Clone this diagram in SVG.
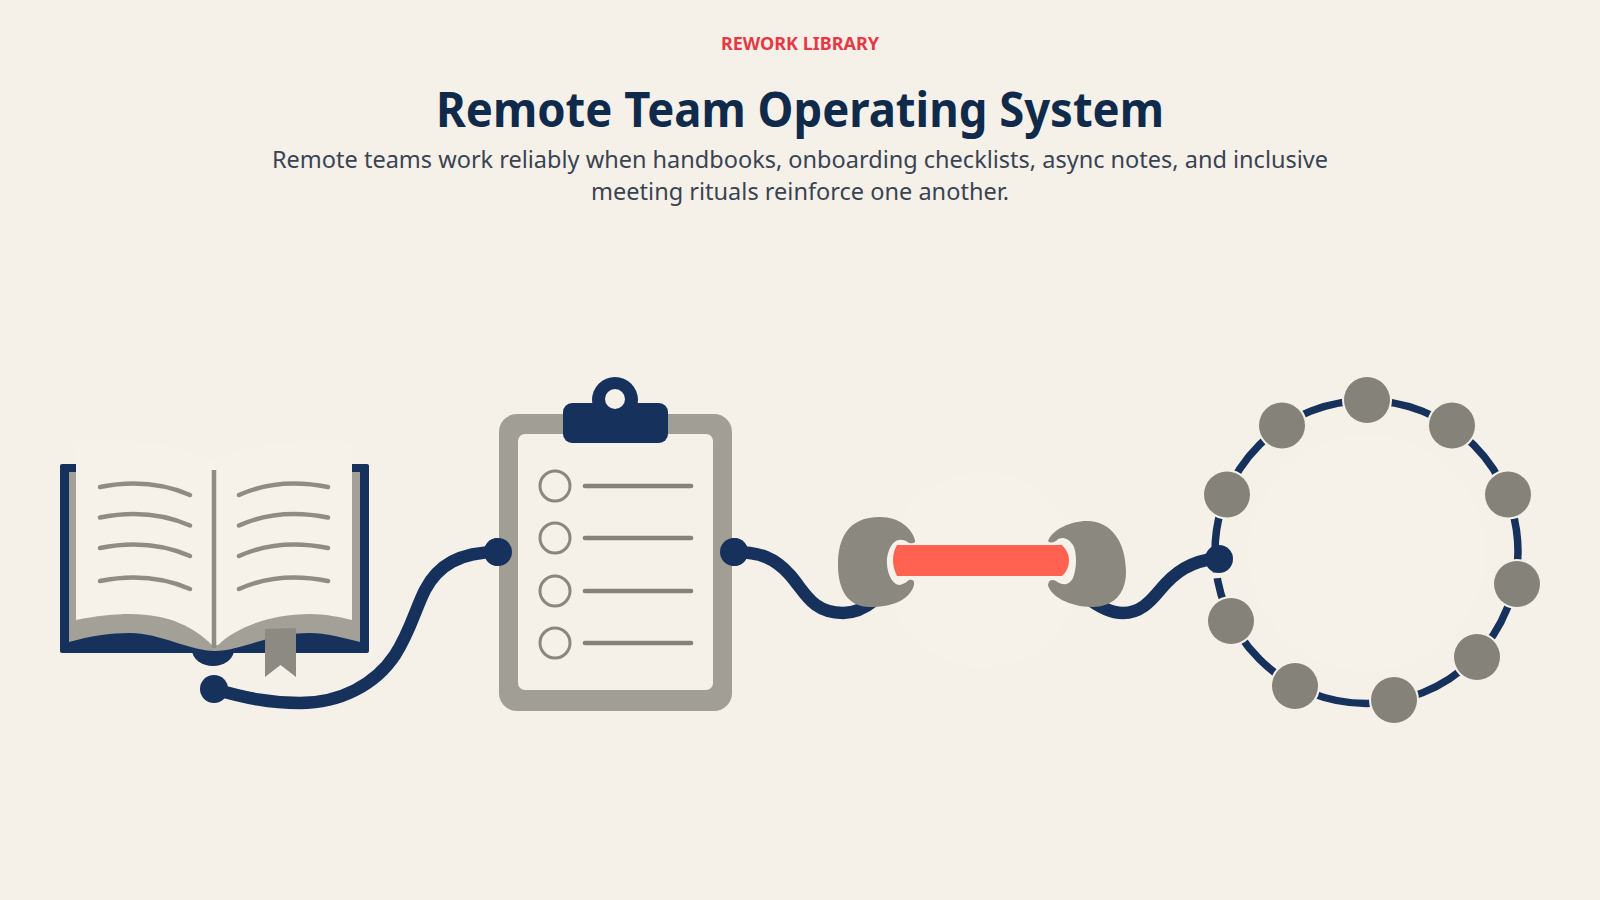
<svg xmlns="http://www.w3.org/2000/svg" width="1600" height="900" viewBox="0 0 1600 900">
  <style>
    .sans { font-family: "Noto Sans", "Open Sans", "Liberation Sans", sans-serif; text-anchor: middle; }
    .eyebrow { font-size: 18px; font-weight: 700; fill: #e63946; }
    .title { font-size: 48px; font-weight: 700; fill: #0f2a4a; }
    .lede { font-size: 24px; fill: #3a4352; }
    .navy { fill: #16325c; }
    .wire { fill: none; stroke: #16325c; stroke-width: 12.500; stroke-linecap: round; }
    .page-line { fill: none; stroke: #8f8c85; stroke-width: 4.500; stroke-linecap: round; }
    .item-line { fill: none; stroke: #85827a; stroke-width: 4.700; stroke-linecap: round; }
    .item-box { fill: none; stroke: #8a8780; stroke-width: 3; }
    .seat { fill: #85827a; stroke: #f5f1e9; stroke-width: 4; paint-order: stroke; }
  </style>
  <rect width="1600" height="900" fill="#f5f1e9"/>

  <g id="header" class="sans">
    <text class="eyebrow" x="800" y="50">REWORK LIBRARY</text>
    <text class="title" x="800" y="127" textLength="728" lengthAdjust="spacingAndGlyphs">Remote Team Operating System</text>
    <text class="lede" x="800" y="168" textLength="1056" lengthAdjust="spacingAndGlyphs">Remote teams work reliably when handbooks, onboarding checklists, async notes, and inclusive</text>
    <text class="lede" x="800" y="200" textLength="418" lengthAdjust="spacingAndGlyphs">meeting rituals reinforce one another.</text>
  </g>

  <g id="connectors">
    <path class="wire" d="M214 689C245 698 270 703 300 703C340 703 375 685 395 655C410 632 415 610 425 590C438 565 460 552 498 552"/>
    <path class="wire" d="M734 552C760 552 775 558 790 575C805 592 812 613 843 613C854 613 864 609 875 600"/>
    <path class="wire" d="M1085 596C1100 608 1112 613 1123 613C1140 613 1150 602 1160 590C1175 572 1190 561 1219 558"/>
    <circle class="navy" cx="214" cy="689" r="14"/>
    <circle class="navy" cx="498" cy="552" r="14"/>
    <circle class="navy" cx="734" cy="552" r="14"/>
  </g>

  <g id="handbook">
    <rect class="navy" x="60" y="464" width="309" height="189" rx="2"/>
    <ellipse class="navy" cx="213" cy="650" rx="21" ry="16"/>
    <path d="M69 472H360V642C345 638 325 633 310 633C270 633 240 651 215 651C190 651 160 633 130 633C110 633 90 636 69 642Z" fill="#a3a097"/>
    <path d="M76 443C110 441 170 438 214 462C258 438 318 441 352 443V620C340 617 325 614 310 614C270 614 235 628 218 645H212C195 628 170 614 130 614C115 614 95 616 76 620Z" fill="#f6f2ea"/>
    <path d="M214 470V648" stroke="#8f8c84" stroke-width="4.500" fill="none"/>
    <g id="handbook-left-lines">
      <path class="page-line" d="M100 487C130 481 160 482 190 495"/>
      <path class="page-line" d="M100 517.500C130 511.500 160 512.500 190 525.500"/>
      <path class="page-line" d="M100 548C130 542 160 543 190 556"/>
      <path class="page-line" d="M100 581C130 575 160 576 190 589"/>
    </g>
    <g id="handbook-right-lines">
      <path class="page-line" d="M328 487C298 481 268 482 239 495"/>
      <path class="page-line" d="M328 517.500C298 511.500 268 512.500 239 525.500"/>
      <path class="page-line" d="M328 548C298 542 268 543 239 556"/>
      <path class="page-line" d="M328 581C298 575 268 576 239 589"/>
    </g>
    <path d="M265 629L296 628V677L280.500 665L265 677Z" fill="#8d8a83"/>
  </g>

  <g id="checklist">
    <rect x="499" y="414" width="233" height="297" rx="18" fill="#a19e95"/>
    <rect x="518" y="434" width="195" height="256" rx="7" fill="#f5f1e9"/>
    <circle class="navy" cx="615" cy="400" r="23"/>
    <rect class="navy" x="563" y="403" width="105" height="40" rx="9"/>
    <circle cx="615" cy="399" r="10" fill="#f5f1e9"/>
    <circle class="item-box" cx="555" cy="486" r="15"/>
    <circle class="item-box" cx="555" cy="538" r="15"/>
    <circle class="item-box" cx="555" cy="591" r="15"/>
    <circle class="item-box" cx="555" cy="643" r="15"/>
    <path class="item-line" d="M585 486H691M585 538H691M585 591H691M585 643H691"/>
    <circle class="navy" cx="498" cy="552" r="14"/>
    <circle class="navy" cx="734" cy="552" r="14"/>
  </g>

  <g id="meeting-link">
    <circle cx="983" cy="570" r="97" fill="#f6f2ea"/>
    <path d="M880 517C900 517 912 529 915 540Q916 544 909 543C900 536 890 540 887 558C886 572 892 585 900 585Q905 584 909 580Q915 579 914 585C910 600 892 607 870 607C848 607 838 590 838 565C838 538 848 517 880 517Z" fill="#8b8880"/>
    <path d="M1048 541C1052 530 1070 521 1087 521C1112 521 1126 543 1126 572C1126 595 1112 607 1092 607C1070 607 1050 596 1048 585Q1049 578 1056 581C1064 587 1070 584 1073 578C1077 568 1077 552 1073 545C1068 537 1060 536 1056 541Q1050 544 1048 541Z" fill="#8b8880"/>
    <path d="M897 545H1062Q1069 552 1069 560Q1069 570 1062 576H897Q893 568 893 560Q893 552 897 545Z" fill="#ff6250"/>
  </g>

  <g id="meeting-ring">
    <circle cx="1367" cy="553" r="118" fill="#f6f2ea"/>
    <circle cx="1366.500" cy="552" r="151.500" fill="none" stroke="#16325c" stroke-width="7.500"/>
    <path d="M1208 576L1230 574" stroke="#f5f1e9" stroke-width="6" fill="none"/>
    <circle class="seat" cx="1367" cy="400" r="23"/>
    <circle class="seat" cx="1452" cy="425.500" r="23"/>
    <circle class="seat" cx="1508" cy="494.500" r="23"/>
    <circle class="seat" cx="1517" cy="584" r="23"/>
    <circle class="seat" cx="1477" cy="657" r="23"/>
    <circle class="seat" cx="1394" cy="700" r="23"/>
    <circle class="seat" cx="1295" cy="686" r="23"/>
    <circle class="seat" cx="1231" cy="621" r="23"/>
    <circle class="seat" cx="1227" cy="494.500" r="23"/>
    <circle class="seat" cx="1282" cy="425.500" r="23"/>
    <circle class="navy" cx="1219" cy="559" r="14"/>
  </g>
</svg>
